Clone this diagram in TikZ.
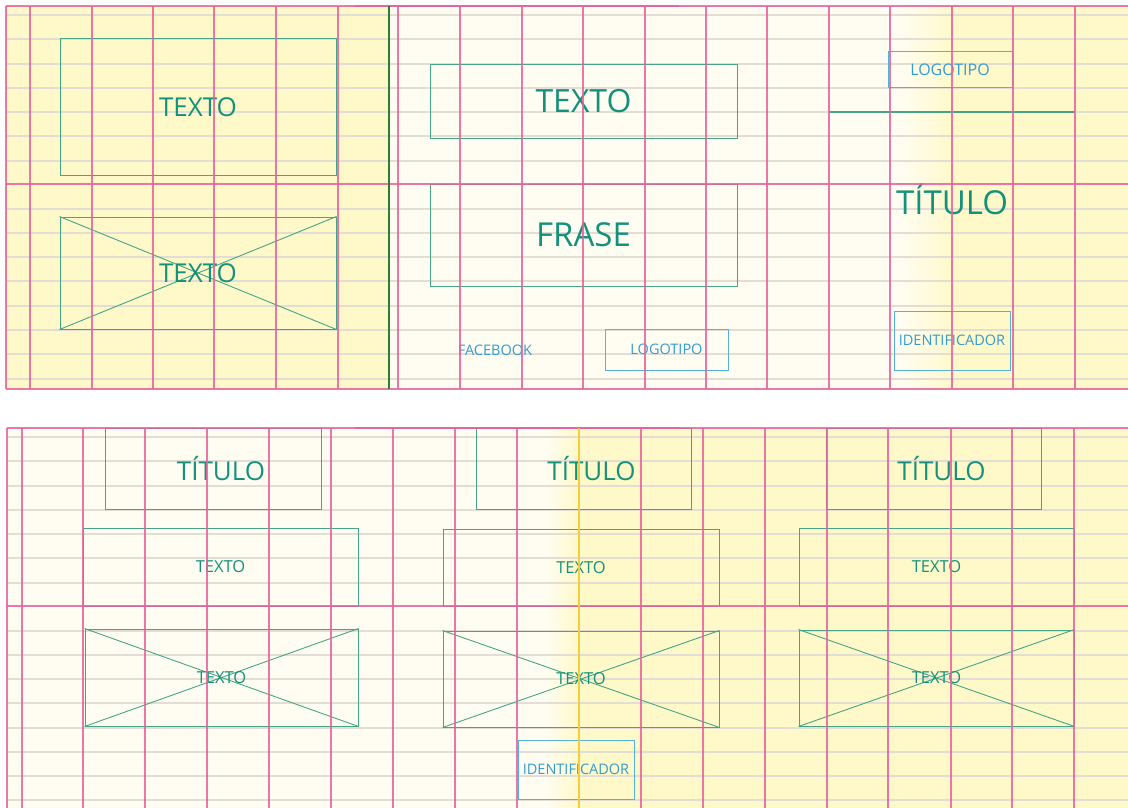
\documentclass[tikz,border=0pt]{standalone}
\usepackage{fontspec}
\setmainfont{Open Sans}
\usepackage{tikz}

\definecolor{paleyel}{HTML}{FFF8C9}
\definecolor{cream}{HTML}{FFFDF1}
\definecolor{guide}{HTML}{E8609A}
\definecolor{rule}{HTML}{E3DED3}
\definecolor{boxgrn}{HTML}{45A687}
\definecolor{txtgrn}{HTML}{13917A}
\definecolor{boxblu}{HTML}{55B2D9}
\definecolor{txtblu}{HTML}{339CD2}
\definecolor{spine}{HTML}{2F7D33}
\definecolor{fold}{HTML}{F2CE3E}

\begin{document}
\begin{tikzpicture}[x=1pt, y=-1pt,
  fs/.style={font=\fontsize{#1}{#1}\selectfont},
  gbox/.style={draw=boxgrn, line width=1pt, inner sep=0pt, text=txtgrn},
  bbox/.style={draw=boxblu, line width=1pt, inner sep=0pt, text=txtblu},
  xl/.style={boxgrn, line width=0.9pt},
  ttl/.style={text=txtgrn, fs=26, xshift=8pt},
  hl/.style={rule, line width=1.1pt},
  vl/.style={guide, line width=1.3pt, opacity=0.85}
]
\useasboundingbox (0,0) rectangle (1128,808);
% page backgrounds
\fill[paleyel] (6,6) rectangle (389,389);
\fill[cream] (389,6) rectangle (900,389);
\shade[left color=cream, right color=paleyel] (900,6) rectangle (955,389);
\fill[paleyel] (955,6) rectangle (1128,389);
\fill[cream] (7,428) rectangle (545,808);
\shade[left color=cream, right color=paleyel] (545,428) rectangle (579,808);
\fill[paleyel] (579,428) rectangle (1128,808);
% baseline rules
\foreach \y in {15,39,64,88,112,136,161,209,233,257,281,306,330,354,379}
  \draw[hl] (6,\y) -- (1128,\y);
\foreach \y in {437,461,486,510,534,558,583,631,655,679,703,728,752,776,800}
  \draw[hl] (7,\y) -- (1128,\y);
% top spread, left page
\node[gbox, minimum width=276pt, minimum height=136pt, fs=26] (txA) at (198,107) {TEXTO};
\node[gbox, minimum width=276pt, minimum height=112pt] (imA) at (198,273) {};
\draw[xl] (imA.north west) -- (imA.south east);
\draw[xl] (imA.south west) -- (imA.north east);
\node[text=txtgrn, fs=26] (imAt) at (imA.center) {TEXTO};
% top spread, middle page
\node[gbox, minimum width=307pt, minimum height=73pt, fs=32] (txB) at (583.5,101.5) {TEXTO};
\node[gbox, minimum width=307pt, minimum height=102pt, fs=33] (fra) at (583.5,235) {FRASE};
\node[text=txtblu, fs=14.5] (fb) at (495,350) {FACEBOOK};
\node[bbox, minimum width=123pt, minimum height=41pt, fs=14.5] (logA) at (666.5,349.5) {LOGOTIPO};
% top spread, cover
\node[bbox, minimum width=124pt, minimum height=36pt, fs=16] (logB) at (950,70) {LOGOTIPO};
\coordinate (rlA) at (829,112);
\coordinate (rlB) at (1075,112);
\draw[boxgrn, line width=1.2pt] (rlA) -- (rlB);
\node[text=txtgrn, fs=33] (titA) at (952,199) {TÍTULO};
\node[bbox, minimum width=116pt, minimum height=59pt, fs=14.5] (idA) at (952,340.5) {IDENTIFICADOR};
% bottom spread, column 1
\node[gbox, minimum width=216pt, minimum height=81pt, label={[ttl]center:TÍTULO}] (titB) at (213,468.5) {};
\node[gbox, minimum width=275pt, minimum height=78pt, fs=16.5] (txC) at (220.5,567) {TEXTO};
\node[gbox, minimum width=273pt, minimum height=97pt] (imC) at (221.5,677.5) {};
\draw[xl] (imC.north west) -- (imC.south east);
\draw[xl] (imC.south west) -- (imC.north east);
\node[text=txtgrn, fs=16.5] (imCt) at (imC.center) {TEXTO};
% bottom spread, column 2
\node[gbox, minimum width=215pt, minimum height=81pt, label={[ttl]center:TÍTULO}] (titC) at (583.5,468.5) {};
\node[gbox, minimum width=276pt, minimum height=77pt, fs=16.5] (txD) at (581,567.5) {TEXTO};
\node[gbox, minimum width=276pt, minimum height=96pt] (imD) at (581,679) {};
\draw[xl] (imD.north west) -- (imD.south east);
\draw[xl] (imD.south west) -- (imD.north east);
\node[text=txtgrn, fs=16.5] (imDt) at (imD.center) {TEXTO};
\node[bbox, minimum width=116pt, minimum height=59pt, fs=14.5] (idB) at (576,769.5) {IDENTIFICADOR};
% bottom spread, column 3
\node[gbox, minimum width=215pt, minimum height=81pt, label={[ttl]center:TÍTULO}] (titD) at (933.5,468.5) {};
\node[gbox, minimum width=275pt, minimum height=78pt, fs=16.5] (txE) at (936.5,567) {TEXTO};
\node[gbox, minimum width=275pt, minimum height=96pt] (imE) at (936.5,678) {};
\draw[xl] (imE.north west) -- (imE.south east);
\draw[xl] (imE.south west) -- (imE.north east);
\node[text=txtgrn, fs=16.5] (imEt) at (imE.center) {TEXTO};
% column guides and margins
\foreach \x in {6,30,92,153,214,276,338,398,460,522,583,645,706,767,829,890,952,1013,1075}
  \draw[vl] (\x,6) -- (\x,389);
\foreach \x in {7,22,83,145,207,269,331,393,455,517,641,703,765,827,888,951,1012,1074}
  \draw[vl] (\x,428) -- (\x,808);
\foreach \y in {6,184,389}
  \draw[vl] (6,\y) -- (1128,\y);
\foreach \y in {428,606}
  \draw[vl] (7,\y) -- (1128,\y);
\draw[guide, line width=2.4pt, opacity=0.85] (355,6) -- (679,6);
\draw[guide, line width=2.4pt, opacity=0.85] (355,428) -- (679,428);
% folds
\draw[spine, line width=1.6pt] (389,6) -- (389,389);
\draw[fold, line width=1.3pt] (579,428) -- (579,808);
\end{tikzpicture}
\end{document}
